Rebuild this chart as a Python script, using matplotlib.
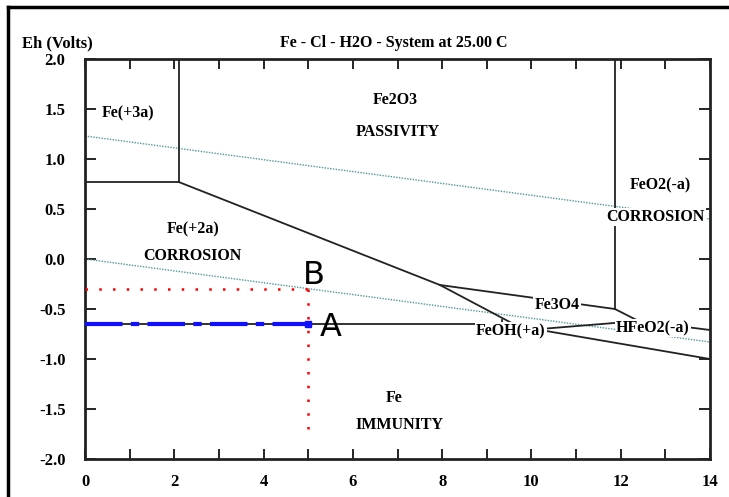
import matplotlib
matplotlib.use("Agg")
import matplotlib.pyplot as plt
from matplotlib.lines import Line2D

plt.rcParams['font.family'] = ['Liberation Serif', 'DejaVu Serif']
plt.rcParams['font.weight'] = 'bold'

# stability field boundaries (pH, Eh in volts)
fe3_fe2o3_ph = [2.1, 2.1];    fe3_fe2o3_eh = [2.0, 0.77]
fe3_fe2_ph = [0.0, 2.1];      fe3_fe2_eh = [0.77, 0.77]
fe2_fe2o3_ph = [2.1, 7.95];   fe2_fe2o3_eh = [0.77, -0.26]
fe2_fe3o4_ph = [7.95, 9.6];   fe2_fe3o4_eh = [-0.26, -0.65]
fe2o3_fe3o4_ph = [7.95, 11.87]; fe2o3_fe3o4_eh = [-0.26, -0.50]
fe2o3_feo2_ph = [11.87, 11.87]; fe2o3_feo2_eh = [2.0, -0.50]
fe3o4_hfeo2_ph = [11.87, 12.4]; fe3o4_hfeo2_eh = [-0.50, -0.62]
fe2_fe_ph = [0.0, 9.35];      fe2_fe_eh = [-0.65, -0.65]
fe2_feoh_ph = [9.35, 9.35];   fe2_feoh_eh = [-0.61, -0.65]
feoh_join_ph = [9.35, 10.2];  feoh_join_eh = [-0.65, -0.70]
fe3o4_fe_ph = [10.2, 12.4];   fe3o4_fe_eh = [-0.70, -0.62]
hfeo2_fe_ph = [12.4, 14.0];   hfeo2_fe_eh = [-0.62, -0.71]
feoh_fe_ph = [10.2, 14.0];    feoh_fe_eh = [-0.71, -1.00]

boundaries = [
    (fe3_fe2o3_ph, fe3_fe2o3_eh), (fe3_fe2_ph, fe3_fe2_eh),
    (fe2_fe2o3_ph, fe2_fe2o3_eh), (fe2_fe3o4_ph, fe2_fe3o4_eh),
    (fe2o3_fe3o4_ph, fe2o3_fe3o4_eh), (fe2o3_feo2_ph, fe2o3_feo2_eh),
    (fe3o4_hfeo2_ph, fe3o4_hfeo2_eh), (fe2_fe_ph, fe2_fe_eh),
    (fe2_feoh_ph, fe2_feoh_eh), (feoh_join_ph, feoh_join_eh),
    (fe3o4_fe_ph, fe3o4_fe_eh), (hfeo2_fe_ph, hfeo2_fe_eh),
    (feoh_fe_ph, feoh_fe_eh),
]

# water stability limits
water_ph = [0.0, 14.0]
o2_eh = [1.23, 0.40]
h2_eh = [0.0, -0.83]

# marked points
point_ph = 5.0
a_eh = -0.65
b_eh = -0.30
b_drop_eh = -1.80

labels = [
    ("Fe(+3a)", 0.96, 1.46), ("Fe2O3", 6.95, 1.59), ("PASSIVITY", 7.0, 1.27),
    ("FeO2(-a)", 12.88, 0.74), ("CORROSION", 12.77, 0.42),
    ("Fe(+2a)", 2.42, 0.30), ("CORROSION", 2.4, 0.03),
    ("Fe3O4", 10.57, -0.46), ("FeOH(+a)", 9.54, -0.72),
    ("HFeO2(-a)", 12.72, -0.69), ("Fe", 6.92, -1.39), ("IMMUNITY", 7.05, -1.66),
]

fig = plt.figure(figsize=(7.29, 4.97), dpi=100)
ax = fig.add_axes([85 / 729, 1 - 459 / 497, 625 / 729, 400 / 497])

ax.plot(water_ph, o2_eh, color='#4f9a9a', lw=1.0, ls=(0, (1, 1)), zorder=2)
ax.plot(water_ph, h2_eh, color='#4f9a9a', lw=1.0, ls=(0, (1, 1)), zorder=2)

for ph, eh in boundaries:
    ax.plot(ph, eh, color='#222222', lw=1.3, zorder=3)

# B: dotted guide lines
ax.plot([0, point_ph], [b_eh, b_eh], color='red', lw=1.8, ls=(0, (1, 4.5)), zorder=4)
ax.plot([point_ph, point_ph], [b_eh, b_drop_eh], color='red', lw=1.8, ls=(0, (1, 4.5)), zorder=4)
# A: corrosion potential
ax.plot([0, point_ph], [a_eh, a_eh], color='#1010ff', lw=3, ls=(0, (9, 2, 2, 2)), zorder=5)
ax.plot([point_ph], [a_eh], marker='s', ms=4, color='#1010ff', zorder=6)

for txt, x, y in labels:
    ax.text(x, y, txt, ha='center', va='center', fontsize=11.5, fontweight='bold',
            bbox=dict(facecolor='white', edgecolor='none', pad=1), zorder=7)

ax.text(point_ph + 0.12, -0.16, "B", fontsize=23, family='DejaVu Sans',
        fontweight='normal', ha='center', va='center', zorder=8)
ax.text(point_ph + 0.5, -0.69, "A", fontsize=23, family='DejaVu Sans',
        fontweight='normal', ha='center', va='center', zorder=8)

ax.set_xlim(0, 14)
ax.set_ylim(-2.0, 2.0)
ax.set_xticks(range(0, 15, 2))
ax.set_xticks(range(1, 14, 2), minor=True)
ax.set_yticks([-2.0, -1.5, -1.0, -0.5, 0.0, 0.5, 1.0, 1.5, 2.0])
ax.set_yticklabels(["-2.0", "-1.5", "-1.0", "-0.5", "0.0", "0.5", "1.0", "1.5", "2.0"])
ax.tick_params(axis='both', which='both', direction='in', top=True, right=True,
               width=1.2, labelsize=12)
ax.tick_params(axis='x', which='both', length=7, pad=11)
ax.tick_params(axis='y', length=8, pad=14)
for lab in ax.get_xticklabels() + ax.get_yticklabels():
    lab.set_fontweight('bold')
for sp in ax.spines.values():
    sp.set_linewidth(2)
    sp.set_color('#222222')

fig.text(22 / 729, 1 - 43 / 497, "Eh (Volts)", fontsize=12, fontweight='bold',
         ha='left', va='center')
fig.text(394 / 729, 1 - 43 / 497, "Fe - Cl - H2O - System at 25.00 C", fontsize=11.5,
         fontweight='bold', ha='center', va='center')

# outer border
fig.add_artist(Line2D([8 / 729, 8 / 729], [0, 1 - 7 / 497], color='black', lw=2.5))
fig.add_artist(Line2D([8 / 729, 1], [1 - 7 / 497, 1 - 7 / 497], color='black', lw=2.5))

fig.savefig('out.png', dpi=100)
